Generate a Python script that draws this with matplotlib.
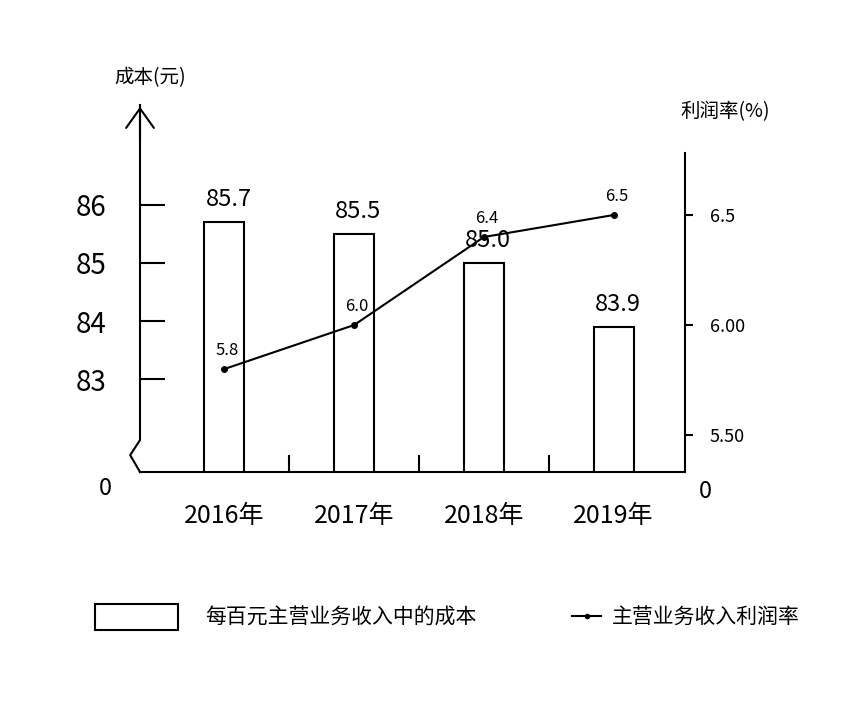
import matplotlib
matplotlib.use("Agg")
import matplotlib.pyplot as plt
from matplotlib.patches import Patch
from matplotlib.lines import Line2D

plt.rcParams['font.family'] = ['Noto Sans CJK SC', 'DejaVu Sans']

# data
years = ["2016年", "2017年", "2018年", "2019年"]
cost = [85.7, 85.5, 85.0, 83.9]          # 每百元主营业务收入中的成本 (元)
margin = [5.8, 6.0, 6.4, 6.5]            # 主营业务收入利润率 (%)
cost_labels = ["85.7", "85.5", "85.0", "83.9"]
margin_labels = ["5.8", "6.0", "6.4", "6.5"]
cost_ticks = [83, 84, 85, 86]
margin_ticks = [5.5, 6.0, 6.5]
margin_tick_labels = ["5.50", "6.00", "6.5"]

fig = plt.figure(figsize=(8.53, 7.25), dpi=100)
ax1 = fig.add_axes([140 / 853, 253 / 725, 545 / 853, 367 / 725])
ax2 = ax1.twinx()

x = list(range(len(years)))

# bars on left axis
ax1.bar(x, cost, width=0.31, bottom=0, color="white", edgecolor="black",
        linewidth=1.5, zorder=2)
ax1.set_ylim(81.4, 87.72)
ax1.set_xlim(-0.65, 3.55)
for xi, v, lab in zip(x, cost, cost_labels):
    ax1.annotate(lab, (xi, v), xytext=(3, 8), textcoords="offset points",
                 ha="center", va="bottom", fontsize=17)

# line on right axis
ax2.plot(x, margin, color="black", linewidth=1.5, marker="o", markersize=4,
         zorder=3)
ax2.set_ylim(5.332, 7.0)
for xi, v, lab in zip(x, margin, margin_labels):
    ax2.annotate(lab, (xi, v), xytext=(2, 7), textcoords="offset points",
                 ha="center", va="bottom", fontsize=12)

# left axis styling
ax1.set_yticks(cost_ticks)
ax1.set_yticklabels([str(t) for t in cost_ticks], fontsize=20)
ax1.tick_params(axis="y", direction="in", length=18, width=1.5, pad=24)
ax1.set_xticks(x)
ax1.set_xticklabels(years, fontsize=18)
ax1.set_xticks([0.5, 1.5, 2.5], minor=True)
ax1.tick_params(axis="x", which="major", length=0, pad=22)
ax1.tick_params(axis="x", which="minor", direction="in", length=12, width=1.5)

for side in ["top", "right", "left"]:
    ax1.spines[side].set_visible(False)
ax1.spines["bottom"].set_linewidth(1.5)
for side in ["top", "left", "bottom"]:
    ax2.spines[side].set_visible(False)

# left spine with break near the bottom and arrow head at top
ax1.plot([0, 0, -0.018, 0], [1, 0.087, 0.046, 0], color="black", lw=1.5,
         transform=ax1.transAxes, clip_on=False)
ax1.annotate("", xy=(0, 1.003), xytext=(0, 0.9), xycoords="axes fraction",
             arrowprops=dict(arrowstyle="->,head_length=1.4,head_width=1.0",
                             lw=1.5, color="black"))

# right axis styling
ax2.spines["right"].set_bounds(5.332, 6.78)
ax2.spines["right"].set_linewidth(1.5)
ax2.set_yticks(margin_ticks)
ax2.set_yticklabels(margin_tick_labels, fontsize=13)
ax2.tick_params(axis="y", direction="out", length=6, width=1.5, pad=12)

# axis titles and zero marks
ax1.text(0.018, 1.074, "成本(元)", transform=ax1.transAxes, ha="center",
         va="center", fontsize=14)
ax2.text(1.073, 0.981, "利润率(%)", transform=ax2.transAxes, ha="center",
         va="center", fontsize=14)
ax1.text(-0.064, -0.044, "0", transform=ax1.transAxes, ha="center",
         va="center", fontsize=17)
ax1.text(1.037, -0.054, "0", transform=ax1.transAxes, ha="center",
         va="center", fontsize=17)

# legends
bar_handle = Patch(facecolor="white", edgecolor="black", linewidth=1.5)
line_handle = Line2D([], [], color="black", lw=1.5, marker="o", markersize=3)
fig.legend([bar_handle], ["每百元主营业务收入中的成本"], loc="center left",
           bbox_to_anchor=(95 / 853, 0.149), frameon=False, fontsize=15,
           borderpad=0, borderaxespad=0, handlelength=4.0, handleheight=1.5,
           handletextpad=1.3)
fig.legend([line_handle], ["主营业务收入利润率"], loc="center left",
           bbox_to_anchor=(572 / 853, 0.149), frameon=False, fontsize=15,
           borderpad=0, borderaxespad=0, handlelength=1.4,
           handletextpad=0.5)

fig.savefig("out.png", dpi=100, facecolor="white")
